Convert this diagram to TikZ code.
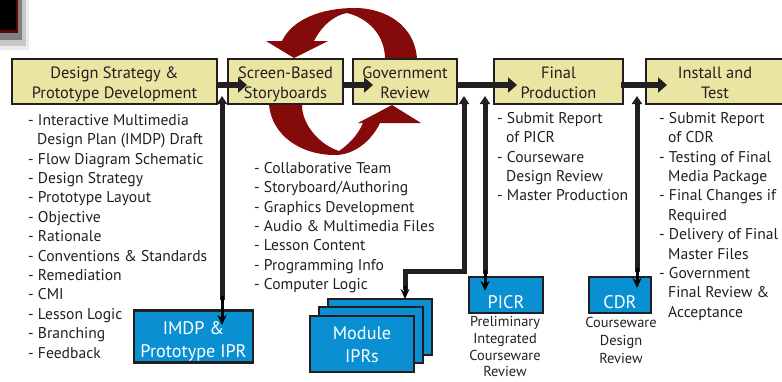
\documentclass[tikz,border=0pt]{standalone}
\usepackage{fontspec}
\setmainfont{PT Sans}
\usetikzlibrary{arrows.meta,calc}
\definecolor{ink}{HTML}{231F20}
\definecolor{sand}{HTML}{EAE5A2}
\definecolor{azure}{HTML}{0A90D2}
\definecolor{wine}{HTML}{850A0A}
\tikzset{
 phase/.style={draw=ink,line width=2.4pt,fill=sand,text=ink,align=center,inner sep=0pt,font=\fontsize{16.4}{19.5}\selectfont},
 ipr/.style={draw=ink,line width=2.4pt,fill=azure,text=white,align=center,inner sep=0pt,font=\fontsize{18.2}{23}\selectfont},
 items/.style={text=ink,align=left,inner sep=0pt,anchor=north west,font=\fontsize{15.6}{19.4}\selectfont},
 note/.style={text=ink,align=center,inner sep=0pt,anchor=north,font=\fontsize{14.4}{18}\selectfont},
 tightnote/.style={note,font=\fontsize{14.4}{16.8}\selectfont},
 flow/.style={ink,line width=6pt,-{Triangle[length=9pt,width=15pt]}},
 riser/.style={ink,line width=5pt,{Triangle[length=8pt,width=10pt]}-},
 drop/.style={black,line width=3pt,-{Stealth[length=10pt,width=9pt]}},
 loopshape/.style={fill=wine,draw=none},
}
\newcommand{\ind}{\hspace*{9pt}}
\newcommand{\lw}[2][7pt]{\smash{\raisebox{-#1}{#2}}}
\begin{document}
\begin{tikzpicture}[x=1pt,y=-1pt]
\clip (0,0) rectangle (782,381);
% corner fragment
\fill[black!8] (0,0) rectangle (29,50);
\fill[black!22] (0,0) rectangle (26,46);
\fill[black!50] (0,0) rectangle (22,40);
\fill[wine!70!black] (0,0) rectangle (18,33);
\fill[black] (0,0) rectangle (16,30);
% recycling loop
\fill[loopshape] (417,59) .. controls (415,25) and (385,8) .. (355,8)
  .. controls (320,8) and (292,20) .. (282,41) -- (266,41) -- (294,58) -- (328,41) -- (314,41)
  .. controls (322,25) and (335,15) .. (347,13)
  .. controls (368,18) and (385,35) .. (385,59) -- cycle;
\fill[loopshape] (269,105) .. controls (272,135) and (300,155) .. (335,155)
  .. controls (355,155) and (372,140) .. (380,123) -- (421,123) -- (392,105) -- (358,123) -- (363,123)
  .. controls (358,135) and (348,145) .. (339,151)
  .. controls (320,145) and (302,125) .. (302,105) -- cycle;
% phases
\node[phase,minimum width=205pt,minimum height=45pt] (design) at (114.5,81.5) {\lw{Design Strategy \&}\\\lw{Prototype Development}};
\node[phase,minimum width=115pt,minimum height=45pt] (screen) at (285.5,81.5) {\lw{Screen-Based}\\\lw{Storyboards}};
\node[phase,minimum width=104pt,minimum height=45pt] (gov) at (405,81.5) {\lw{Government}\\\lw{Review}};
\node[phase,minimum width=129pt,minimum height=45pt] (final) at (558.5,81.5) {\lw{Final}\\\lw{Production}};
\node[phase,minimum width=138pt,minimum height=45pt] (install) at (715,81.5) {\lw{Install and}\\\lw{Test}};
% reviews
\node[ipr,minimum width=119pt,minimum height=52pt] (imdp) at (193.5,336.5) {\lw[9pt]{IMDP \&}\\\lw[9pt]{Prototype IPR}};
\node[ipr,minimum width=104pt,minimum height=56pt] (modc) at (380,327) {};
\node[ipr,minimum width=104pt,minimum height=56pt] (modb) at (371,335) {};
\node[ipr,minimum width=104pt,minimum height=56pt] (moda) at (362,344) {\lw{Module}\\\lw{IPRs}};
\node[ipr,minimum width=74pt,minimum height=36pt] (picr) at (506,295) {\lw[13pt]{PICR}};
\node[ipr,minimum width=62pt,minimum height=36pt] (cdr) at (620,295) {\lw[13pt]{CDR}};
% text
\node[items] (l1) at (28,114) {- Interactive Multimedia\\\ind Design Plan (IMDP) Draft\\- Flow Diagram Schematic\\- Design Strategy\\- Prototype Layout\\- Objective\\- Rationale\\- Conventions \& Standards\\- Remediation\\- CMI\\- Lesson Logic\\- Branching\\- Feedback};
\node[items] (l2) at (254,162) {- Collaborative Team\\- Storyboard/Authoring\\- Graphics Development\\- Audio \& Multimedia Files\\- Lesson Content\\- Programming Info\\- Computer Logic};
\node[items] (l3) at (497,112) {- Submit Report\\\ind of PICR\\- Courseware\\\ind Design Review\\- Master Production};
\node[items] (l4) at (659,112) {- Submit Report\\\ind of CDR\\- Testing of Final\\\ind Media Package\\- Final Changes if\\\ind Required\\- Delivery of Final\\\ind Master Files\\- Government\\\ind Final Review \&\\\ind Acceptance};
\node[tightnote] (n1) at (505,316) {Preliminary\\Integrated\\Courseware\\Review};
\node[note] (n2) at (621,317.5) {Courseware\\Design\\Review};
% horizontal flow
\coordinate (d1) at (217,85); \coordinate (s1) at (247,85);
\coordinate (d2) at (343,85); \coordinate (s2) at (373,85);
\coordinate (d3) at (457,85); \coordinate (s3) at (517,85);
\coordinate (d4) at (621,85); \coordinate (s4) at (667,85);
\draw[flow] (d1) -- (s1);
\draw[flow] (d2) -- (s2);
\draw[flow] (d3) -- (s3);
\draw[flow] (d4) -- (s4);
% review risers
\coordinate (u1) at (222,96); \coordinate (u2) at (464,96); \coordinate (u3) at (485,96); \coordinate (u4) at (637,96);
\coordinate (e1) at (222,325); \coordinate (e2) at (405,299); \coordinate (e3) at (485,291); \coordinate (e4) at (637,288);
\draw[riser] (u1) -- (222,300);
\draw[drop] (222,296) -- (e1);
\draw[riser,line join=miter] (u2) -- (464,271) -- (405,271) -- (405,290);
\draw[drop] (405,286) -- (e2);
\draw[riser] (u3) -- (485,274);
\draw[drop] (485,270) -- (e3);
\draw[riser] (u4) -- (637,272);
\draw[drop] (637,268) -- (e4);
\end{tikzpicture}
\end{document}
